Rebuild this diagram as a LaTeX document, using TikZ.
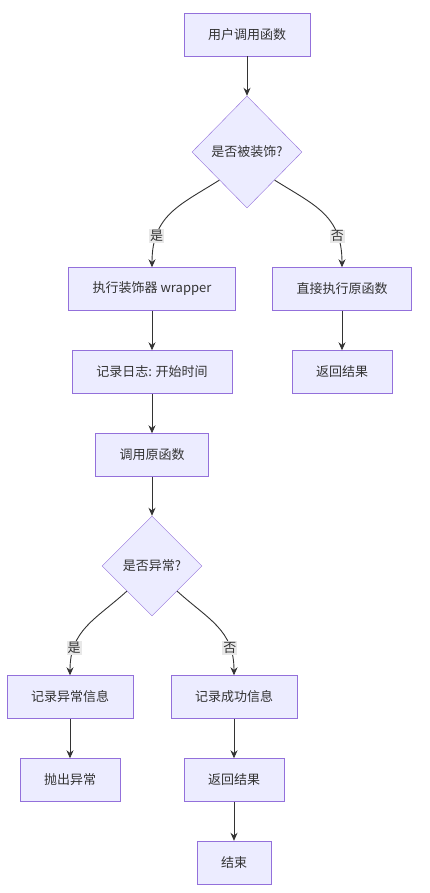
\documentclass[tikz,border=0pt]{standalone}
\usepackage{fontspec}
\setmainfont{Noto Sans CJK SC}
\usetikzlibrary{shapes.geometric,arrows.meta}
\definecolor{boxfill}{HTML}{ECECFF}
\definecolor{boxline}{HTML}{9370DB}
\definecolor{edgeline}{HTML}{333333}
\definecolor{lblfill}{HTML}{E8E8E8}
\tikzset{
  box/.style={draw=boxline, fill=boxfill, rectangle, minimum height=43pt, inner xsep=24pt, text=edgeline, font=\fontsize{13}{15}\selectfont},
  ask/.style={draw=boxline, fill=boxfill, diamond, inner sep=0pt, text=edgeline, font=\fontsize{13}{15}\selectfont},
  lbl/.style={fill=lblfill, inner sep=1pt, text=edgeline, font=\fontsize{13}{15}\selectfont},
  flow/.style={draw=edgeline, line width=0.9pt, -{Stealth[length=8pt,width=7pt]}}
}
\begin{document}
\begin{tikzpicture}[x=1pt,y=-1pt]
\useasboundingbox[fill=white] (0,0) rectangle (429,893);

\node[box] (call) at (247,34.5) {用户调用函数};
\node[ask, minimum width=110pt, minimum height=112pt] (isdec) at (247,152) {是否被装饰?};
\node[box] (wrap) at (152,289) {执行装饰器 wrapper};
\node[box] (direct) at (342,289) {直接执行原函数};
\node[box] (logstart) at (152,372) {记录日志: 开始时间};
\node[box] (ret1) at (342,372) {返回结果};
\node[box] (orig) at (152,455) {调用原函数};
\node[ask, minimum width=100pt, minimum height=100pt] (isexc) at (152,566) {是否异常?};
\node[box] (logerr) at (70,697) {记录异常信息};
\node[box] (logok) at (234,697) {记录成功信息};
\node[box] (throw) at (70,780) {抛出异常};
\node[box] (ret2) at (234,780) {返回结果};
\node[box] (done) at (234,862.5) {结束};

\draw[flow] (call) -- (isdec);
\draw[flow] (isdec.south west) .. controls (180,205) and (152,215) .. (wrap.north)
  node[lbl, pos=0.76] (yes1) {是};
\draw[flow] (isdec.south east) .. controls (314,205) and (342,215) .. (direct.north)
  node[lbl, pos=0.76] (no1) {否};
\draw[flow] (wrap) -- (logstart);
\draw[flow] (direct) -- (ret1);
\draw[flow] (logstart) -- (orig);
\draw[flow] (orig) -- (isexc);
\draw[flow] (isexc.south west) .. controls (95,620) and (70,630) .. (logerr.north)
  node[lbl, pos=0.76] (yes2) {是};
\draw[flow] (isexc.south east) .. controls (209,620) and (234,630) .. (logok.north)
  node[lbl, pos=0.76] (no2) {否};
\draw[flow] (logerr) -- (throw);
\draw[flow] (logok) -- (ret2);
\draw[flow] (ret2) -- (done);
\end{tikzpicture}
\end{document}
